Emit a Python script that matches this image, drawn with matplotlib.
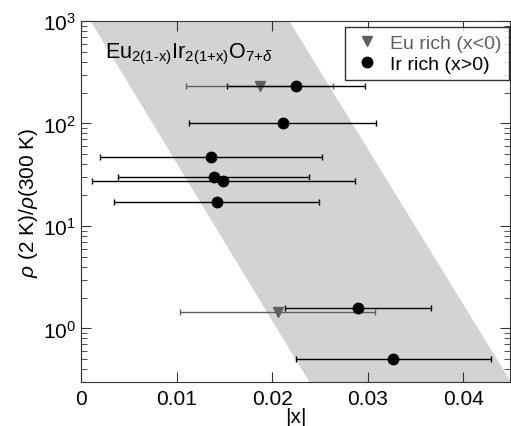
import numpy as np
import matplotlib.pyplot as plt

plt.rcParams['font.family'] = ['Liberation Sans', 'DejaVu Sans']
plt.rcParams['mathtext.fontset'] = 'custom'
plt.rcParams['mathtext.rm'] = 'Liberation Sans'
plt.rcParams['mathtext.it'] = 'Liberation Sans:italic'

# Eu rich (x<0)
eu_x = [0.0187, 0.0206]
eu_xerr = [0.0077, 0.0102]
eu_y = [232, 1.45]

# Ir rich (x>0)
ir_x = [0.0225, 0.0211, 0.0136, 0.0139, 0.0149, 0.0142, 0.0290, 0.0327]
ir_xerr = [0.0072, 0.0098, 0.0116, 0.0100, 0.0138, 0.0107, 0.0076, 0.0102]
ir_y = [230, 100, 47.6, 29.8, 27.5, 17.3, 1.58, 0.50]

# band edges (|x| at y = 1000 and y = 0.3)
band_y = [1000, 0.3]
band_left = [0.0010, 0.0239]
band_right = [0.0218, 0.0450]

fig = plt.figure(figsize=(5.11, 4.27), dpi=100)
ax = fig.add_axes([0.1585, 0.103, 0.8395, 0.8455])

ax.fill(band_left + band_right[::-1], band_y + band_y[::-1],
        color='#d3d3d3', lw=0, zorder=0)

eu = ax.errorbar(eu_x, eu_y, xerr=eu_xerr, fmt='v', color='#5f5f5f', ms=7,
                 ecolor='#5f5f5f', elinewidth=1, capsize=2, capthick=1,
                 zorder=3)
ir = ax.errorbar(ir_x, ir_y, xerr=ir_xerr, fmt='o', color='black', ms=7.5,
                 ecolor='black', elinewidth=1, capsize=2, capthick=1,
                 zorder=4)

ax.set_yscale('log')
ax.set_xlim(0, 0.0449)
ax.set_ylim(0.3, 1000)
ax.set_xticks([0, 0.01, 0.02, 0.03, 0.04])
ax.set_xticklabels(['0', '0.01', '0.02', '0.03', '0.04'])
ax.tick_params(which='both', direction='in', top=True, right=True,
               labelsize=15, color='#333333')
ax.tick_params(which='major', length=7)
ax.tick_params(which='minor', length=4)
ax.tick_params(axis='x', pad=5)
for s in ax.spines.values():
    s.set_color('#333333')

ax.set_xlabel('|x|', fontsize=15, labelpad=-1)
ax.set_ylabel(r'$\rho$ (2 K)/$\rho$(300 K)', fontsize=15, labelpad=2)

ax.text(0.055, 0.945,
        r'Eu$_{\text{2(1-x)}}$Ir$_{\text{2(1+x)}}$O$_{\text{7+}\delta}$',
        transform=ax.transAxes, fontsize=15.5, va='top', ha='left')

leg = ax.legend([eu[0], ir[0]], ['Eu rich (x<0)', 'Ir rich (x>0)'],
                loc='upper right', bbox_to_anchor=(0.997, 0.983),
                fontsize=14, frameon=True, fancybox=False,
                edgecolor='black', handletextpad=0.4, borderpad=0.35,
                labelspacing=0.2, handlelength=1.6, borderaxespad=0)
leg.get_frame().set_linewidth(1)
leg.get_texts()[0].set_color('#5f5f5f')

fig.savefig('out.png', dpi=100)
